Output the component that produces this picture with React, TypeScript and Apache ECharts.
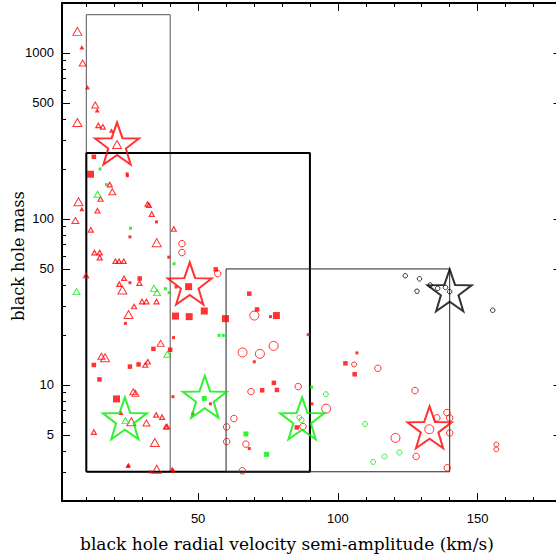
import React, { useEffect, useRef } from "react";
import * as echarts from "echarts";

// ---- data (velocity km/s, black hole mass) ----
const redTriangleLarge = [[6.8,1349],[6.8,381],[7.2,127],[21,281],[35.2,72],[22.9,37.3],[25.1,26.6],[16.7,14.6],[26.1,6.0],[34.5,4.5],[35.2,3.11]];
const redTriangleMedium = [[8.7,871],[19.3,146],[6.1,98],[15.4,14.9],[26.8,9.1],[27.6,8.9],[36.6,17.8],[31.5,5.9],[13.2,486]];
const redTriangleSmall = [[14.3,366],[15.9,359],[18.4,161],[15.1,132],[14.0,112],[31.9,123],[32.4,121],[33.4,107],[11.6,86],[41.3,87],[12.9,62.7],[14.8,62.7],[14.8,58.5],[20.4,55.7],[21.7,55.7],[23.4,55.7],[9.9,45.7],[23.5,44],[21.8,40.5],[29.0,41.1],[29.9,31.8],[31.5,31.8],[35.1,31.8],[27.1,29.7],[31.1,13.2],[32,13.8],[35,6.6],[37.1,6.4],[38.5,5.6],[38.9,5.6],[12.7,5.2]];
const redTriangleFilled = [[8.4,1081],[10.4,621],[13.9,452],[19.0,341],[8.4,115],[24.9,3.26],[25.1,3.3],[40.7,3.13],[41.1,3.05],[22.4,6.8]];
const redDots = [[25.6,78],[35.1,96],[25.6,41.3],[24,23.5],[41.2,19.3],[39.5,58.9],[41,8.5],[54.4,7.7],[48.1,6.7],[70.1,13.8],[75.9,25.8],[89.4,20.1],[90.7,7.7],[106.8,15.6],[24.6,187],[24.7,182],[42.1,38.9],[68.3,4.14],[32.9,2.99]];
const redSquares = [[12.7,237],[14.7,10.8],[12.7,13.2],[25.6,12.9],[28.7,13.3],[34,16.5],[40,16.3],[29.1,43.8],[68.3,35.5],[71.1,28.5],[72.9,9.29],[77.1,10.3],[78.2,9.33],[85.3,5.55],[102.7,13.5],[106,11.6],[56.3,49.7]];
const redSquaresLarge = [[11.5,186],[20.8,8.24],[46.6,39.1],[41.9,26],[46.8,25.8],[52.2,27.9],[59.8,25.1],[78,26.2]];
const redCirclesLarge = [[65.9,15.7],[72.1,15.4],[77,17.2],[70.1,26.2],[95.8,7.2],[120.6,4.8],[132.7,5.41]];
const redCircles = [[44.2,71],[44.2,62.7],[57,46.8],[68.9,9.12],[85.8,9.78],[87.5,5.62],[60.2,5.59],[60.2,4.56],[62.8,6.28],[65.8,3.04],[67.1,4.4],[114.3,12.6],[127.6,9.25],[135.4,6.33],[139,6.82],[140,6.33],[140,5.14],[128,3.71],[139.1,3.17]];
const redCirclesSmall = [[105.8,13.3],[156.7,4.38],[156.7,4.1]];
const greenTriangles = [[6.5,36.5],[14,141],[34.2,38.2],[24,6.1],[39,15.3],[35.3,36]];
const greenDots = [[14.9,200],[17.2,161],[25.8,88],[41.4,53.7],[38.3,38],[39.6,36],[57.5,19.9],[59,19.9],[90.6,9.7]];
const greenSquares = [[52.2,8.3],[67.1,5.07],[74.5,3.82]];
const greenCircles = [[95.7,8.8],[109.7,5.82],[112.6,3.44],[116.7,3.71],[122,3.92],[86.2,6.37],[87,6.16]];
const blackCircles = [[124.1,45.5],[129.2,43.6],[128.3,36.7],[135.7,38.2],[138.5,38.7],[140,36.5],[155.4,28.2],[133,40]];
const redStars = [[21,285],[47,40.9],[132.8,5.56]];
const greenStars = [[23.8,6.3],[52.4,8.49],[87.2,6.3]];
const blackStars = [[140,37.2]];

// boxes: [xMin, xMax, massMin, massMax]
const boxA = [10, 40, 3, 1700];
const boxB = [10, 90, 3, 250];
const boxC = [60, 140, 3, 50];

// axes
const xRange = [1.3, 180];
const massRange = [2, 2000];
const xMajorTicks = [50, 100, 150];
const xMinorTicks = [10, 20, 30, 40, 60, 70, 80, 90, 110, 120, 130, 140, 160, 170];
const massMajorTicks = [5, 10, 50, 100, 500, 1000];
const massMinorTicks = [3, 4, 6, 7, 8, 9, 20, 30, 40, 60, 70, 80, 90, 200, 300, 400, 600, 700, 800, 900];
const xTitle = "black hole radial velocity semi-amplitude (km/s)";
const yTitle = "black hole mass";

const RED = "#ff0000";
const GREEN = "#00ee00";
const BLACK = "#000000";

const lg = (v: number) => Math.log10(v);
const tr = (d: number[][]) => d.map(([x, m]) => [x, lg(m)]);

function starPath(inner: number) {
  const pts: string[] = [];
  for (let i = 0; i < 10; i++) {
    const a = (-90 + i * 36) * Math.PI / 180;
    const r = i % 2 === 0 ? 10 : 10 * inner;
    pts.push(`${(r * Math.cos(a)).toFixed(3)} ${(r * Math.sin(a)).toFixed(3)}`);
  }
  return "path://M" + pts.join(" L") + " Z";
}
const STAR = starPath(0.4);

function scatter(data: number[][], symbol: string, size: any, color: string, filled: boolean, lw = 1, z = 3) {
  return {
    type: "scatter",
    data: tr(data),
    symbol,
    symbolSize: size,
    z,
    silent: true,
    itemStyle: filled
      ? { color, borderWidth: 0 }
      : { color: "rgba(0,0,0,0)", borderColor: color, borderWidth: lw },
  };
}

function box(b: number[], color: string, width: number) {
  const [x0, x1, y0, y1] = b;
  return {
    type: "line",
    data: tr([[x0, y0], [x0, y1], [x1, y1], [x1, y0], [x0, y0]]),
    symbol: "none",
    silent: true,
    z: 2,
    lineStyle: { color, width },
  };
}

const tickFont = { fontFamily: "Liberation Sans, Arial, sans-serif", fontSize: 13, color: "#000" };

function xAxisDef(position: string, ticks: number[], len: number, showLine: boolean, showLabel: boolean) {
  return {
    type: "value",
    position,
    min: xRange[0],
    max: xRange[1],
    splitLine: { show: false },
    axisLine: { show: showLine, onZero: false, lineStyle: { color: BLACK, width: 2 } },
    axisTick: { show: true, inside: true, length: len, customValues: ticks, lineStyle: { color: BLACK, width: 1 } },
    axisLabel: showLabel
      ? { show: true, customValues: xMajorTicks, margin: 11, ...tickFont }
      : { show: false },
  };
}

function yAxisDef(position: string, ticks: number[], len: number, showLine: boolean, showLabel: boolean) {
  return {
    type: "value",
    position,
    min: lg(massRange[0]),
    max: lg(massRange[1]),
    splitLine: { show: false },
    axisLine: { show: showLine, onZero: false, lineStyle: { color: BLACK, width: 2 } },
    axisTick: { show: true, inside: true, length: len, customValues: ticks.map(lg), lineStyle: { color: BLACK, width: 1 } },
    axisLabel: showLabel
      ? {
          show: true,
          customValues: massMajorTicks.map(lg),
          margin: 8,
          formatter: (v: number) => String(Math.round(Math.pow(10, v))),
          ...tickFont,
        }
      : { show: false },
  };
}

export default function App() {
  const ref = useRef<HTMLDivElement>(null);
  useEffect(() => {
    if (!ref.current) return;
    const chart = echarts.init(ref.current, null, { renderer: "svg" });
    chart.setOption({
      animation: false,
      backgroundColor: "#fff",
      grid: { left: 62, top: 3, right: -5.5, bottom: 58, containLabel: false, outerBoundsMode: "none" },
      xAxis: [
        xAxisDef("bottom", xMajorTicks, 8, true, true),
        xAxisDef("bottom", xMinorTicks, 4, false, false),
        xAxisDef("top", xMajorTicks, 8, true, false),
        xAxisDef("top", xMinorTicks, 4, false, false),
      ],
      yAxis: [
        yAxisDef("left", massMajorTicks, 8, true, true),
        yAxisDef("left", massMinorTicks, 4, false, false),
        yAxisDef("right", massMajorTicks, 8, true, false),
      ],
      graphic: [
        {
          type: "text",
          left: 80,
          top: 535,
          style: { text: xTitle, fill: "#000", font: "17px 'DejaVu Serif', serif" },
        },
        {
          type: "text",
          x: 18,
          y: 256,
          rotation: Math.PI / 2,
          style: {
            text: yTitle,
            fill: "#000",
            font: "16px 'DejaVu Serif', serif",
            align: "center",
            verticalAlign: "middle",
            textAlign: "center",
            textVerticalAlign: "middle",
          },
        },
      ],
      series: [
        box(boxA, "#555555", 1),
        box(boxB, BLACK, 2),
        box(boxC, "#222222", 1),
        scatter(redTriangleLarge, "triangle", [9, 8], RED, false, 1),
        scatter(redTriangleMedium, "triangle", [7, 6], RED, false, 1),
        scatter(redTriangleSmall, "triangle", [5, 4.5], RED, false, 1.2),
        scatter(redTriangleFilled, "triangle", [5, 4.5], RED, true),
        scatter(redDots, "rect", 3, RED, true),
        scatter(redSquares, "rect", 4.5, RED, true),
        scatter(redSquaresLarge, "rect", 7, RED, true),
        scatter(redCirclesLarge, "circle", 9, RED, false, 1),
        scatter(redCircles, "circle", 6.5, RED, false, 1),
        scatter(redCirclesSmall, "circle", 5, RED, false, 1),
        scatter(greenTriangles, "triangle", [7, 6], GREEN, false, 1),
        scatter(greenDots, "rect", 3, GREEN, true),
        scatter(greenSquares, "rect", 5, GREEN, true),
        scatter(greenCircles, "circle", 5, GREEN, false, 1),
        scatter(blackCircles, "circle", 4.5, BLACK, false, 1),
        scatter(redStars, STAR, [44, 42], RED, false, 2, 5),
        scatter(greenStars, STAR, [44, 42], GREEN, false, 2, 5),
        scatter(blackStars, STAR, [44, 42], BLACK, false, 2, 5),
      ],
    });
    return () => chart.dispose();
  }, []);
  return (
    <div
      ref={ref}
      style={{ position: "fixed", left: 0, top: 0, width: 556, height: 559, background: "#fff" }}
    />
  );
}
